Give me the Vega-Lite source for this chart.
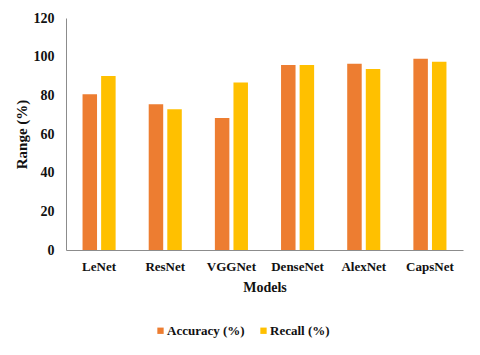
{
  "$schema": "https://vega.github.io/schema/vega-lite/v6.json",
  "autosize": "none",
  "width": 397,
  "height": 232,
  "padding": {"left": 66, "top": 18, "right": 17, "bottom": 105},
  "background": "white",
  "data": {
    "values": [
      {"model": "LeNet", "metric": "Accuracy (%)", "value": 80.5},
      {"model": "LeNet", "metric": "Recall (%)", "value": 90.0},
      {"model": "ResNet", "metric": "Accuracy (%)", "value": 75.4},
      {"model": "ResNet", "metric": "Recall (%)", "value": 72.8},
      {"model": "VGGNet", "metric": "Accuracy (%)", "value": 68.3},
      {"model": "VGGNet", "metric": "Recall (%)", "value": 86.7},
      {"model": "DenseNet", "metric": "Accuracy (%)", "value": 95.7},
      {"model": "DenseNet", "metric": "Recall (%)", "value": 95.7},
      {"model": "AlexNet", "metric": "Accuracy (%)", "value": 96.4},
      {"model": "AlexNet", "metric": "Recall (%)", "value": 93.6},
      {"model": "CapsNet", "metric": "Accuracy (%)", "value": 98.9},
      {"model": "CapsNet", "metric": "Recall (%)", "value": 97.4}
    ]
  },
  "mark": {"type": "bar"},
  "encoding": {
    "x": {
      "field": "model",
      "type": "nominal",
      "sort": null,
      "scale": {"paddingInner": 0.5, "paddingOuter": 0.25},
      "axis": {
        "title": "Models",
        "labelAngle": 0,
        "ticks": false,
        "labelPadding": 10,
        "titlePadding": 7,
        "domainColor": "#8c8c8c",
        "labelFont": "Liberation Serif",
        "labelFontWeight": "bold",
        "labelFontSize": 13,
        "labelColor": "#111111",
        "titleFont": "Liberation Serif",
        "titleFontWeight": "bold",
        "titleFontSize": 14,
        "titleColor": "#111111"
      }
    },
    "xOffset": {
      "field": "metric",
      "type": "nominal",
      "scale": {"paddingInner": 0.22, "paddingOuter": 0}
    },
    "y": {
      "field": "value",
      "type": "quantitative",
      "scale": {"domain": [0, 120], "nice": false},
      "axis": {
        "title": "Range (%)",
        "values": [0, 20, 40, 60, 80, 100, 120],
        "grid": false,
        "ticks": false,
        "labelPadding": 12,
        "titlePadding": 4,
        "domainColor": "#8c8c8c",
        "labelFont": "Liberation Serif",
        "labelFontWeight": "bold",
        "labelFontSize": 14,
        "labelColor": "#111111",
        "titleFont": "Liberation Serif",
        "titleFontWeight": "bold",
        "titleFontSize": 15,
        "titleColor": "#111111"
      }
    },
    "color": {
      "field": "metric",
      "type": "nominal",
      "scale": {"domain": ["Accuracy (%)", "Recall (%)"], "range": ["#ED7D31", "#FFC000"]},
      "legend": {
        "title": null,
        "orient": "none",
        "direction": "horizontal",
        "legendX": 88,
        "legendY": 306,
        "symbolType": "square",
        "symbolSize": 40,
        "symbolStrokeWidth": 0,
        "labelOffset": 0,
        "columnPadding": 12,
        "labelFont": "Liberation Serif",
        "labelFontWeight": "bold",
        "labelFontSize": 13,
        "labelColor": "#111111"
      }
    }
  },
  "config": {"view": {"stroke": null}}
}
